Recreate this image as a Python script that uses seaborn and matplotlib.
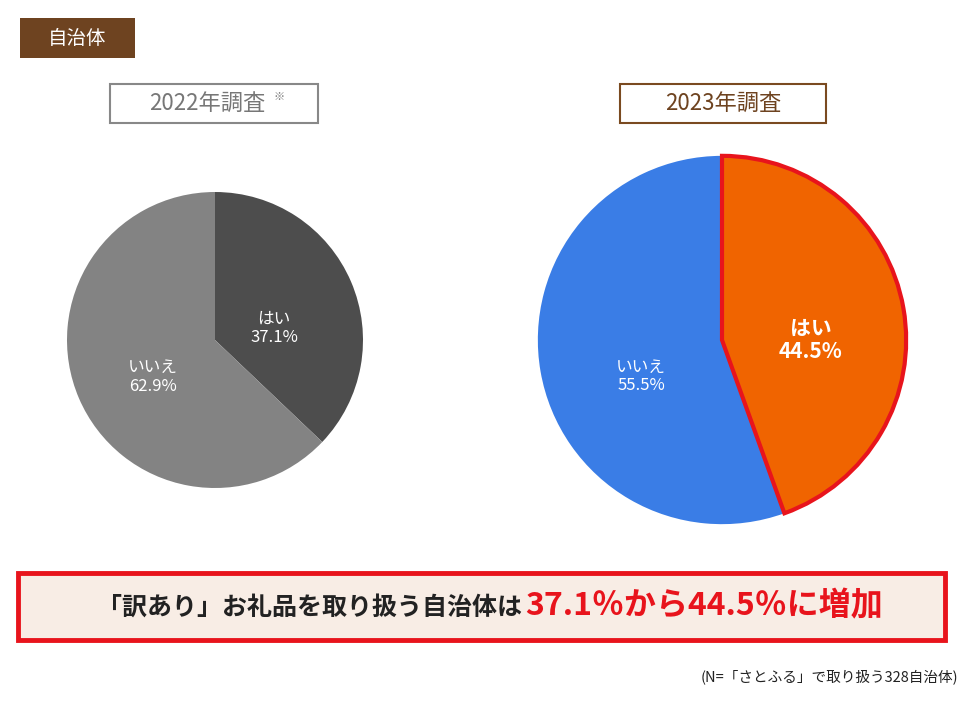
import matplotlib
matplotlib.use("Agg")
import matplotlib.pyplot as plt
import seaborn as sns
from matplotlib.patches import Rectangle

sns.set_theme(style="white")
plt.rcParams["font.family"] = "Noto Sans CJK JP"

labels = ["はい", "いいえ"]
values_2022 = [37.1, 62.9]
values_2023 = [44.5, 55.5]
titles = ["2022年調査", "2023年調査"]

W, H = 980, 710
fig = plt.figure(figsize=(W/100, H/100), dpi=100)

def px_axes(cx, cy, r):
    a = fig.add_axes([(cx-r)/W, 1-(cy+r)/H, 2*r/W, 2*r/H])
    return a

ov = fig.add_axes([0, 0, 1, 1])
ov.set_xlim(0, W); ov.set_ylim(H, 0); ov.axis("off")

ov.add_patch(Rectangle((20, 18), 115, 40, facecolor="#6E4320", edgecolor="none"))
ov.text(77, 38, "自治体", color="white", fontsize=14, ha="center", va="center")

ov.add_patch(Rectangle((110, 84), 208, 39, facecolor="white", edgecolor="#888888", lw=1.5))
ov.text(207, 103, titles[0], color="#777777", fontsize=16, ha="center", va="center")
ov.text(273, 97, "※", color="#777777", fontsize=8, ha="left", va="center")
ov.add_patch(Rectangle((620, 84), 206, 39, facecolor="white", edgecolor="#7A4A20", lw=1.5))
ov.text(723, 103, titles[1], color="#6E4320", fontsize=16, ha="center", va="center")

ax1 = px_axes(215, 340, 148)
ax1.pie(values_2022, colors=["#4D4D4D", "#838383"], startangle=90, counterclock=False,
        wedgeprops=dict(linewidth=0))
ax1.set_xlim(-1, 1); ax1.set_ylim(-1, 1); ax1.set_aspect("equal")
ax1.text(0.4, 0.08, f"{labels[0]}\n{values_2022[0]}%", color="white", fontsize=12,
         ha="center", va="center", linespacing=1.1)
ax1.text(-0.42, -0.25, f"{labels[1]}\n{values_2022[1]}%", color="white", fontsize=12,
         ha="center", va="center", linespacing=1.1)

ax2 = px_axes(722, 340, 186)
w, _ = ax2.pie(values_2023, colors=["#F06400", "#3A7DE6"], startangle=90, counterclock=False,
               wedgeprops=dict(linewidth=0))
w[0].set_edgecolor("#E8141C"); w[0].set_linewidth(3); w[0].set_zorder(3)
ax2.set_xlim(-1.01, 1.01); ax2.set_ylim(-1.01, 1.01); ax2.set_aspect("equal")
ax2.text(0.48, 0.0, f"{labels[0]}\n{values_2023[0]}%", color="white", fontsize=15,
         fontweight="bold", ha="center", va="center", linespacing=1.15)
ax2.text(-0.44, -0.2, f"{labels[1]}\n{values_2023[1]}%", color="white", fontsize=12,
         ha="center", va="center", linespacing=1.1)

ov.add_patch(Rectangle((18, 573), 927, 67, facecolor="#F8EDE5", edgecolor="#E8141C", lw=3.5))
ov.text(522, 608, "「訳あり」お礼品を取り扱う自治体は", color="#222222", fontsize=18,
        fontweight="bold", ha="right", va="center")
ov.text(525, 606, "37.1％から44.5％に増加", color="#E8141C", fontsize=23,
        fontweight="bold", ha="left", va="center")
ov.text(958, 677, "(N=「さとふる」で取り扱う328自治体)", color="#222222", fontsize=10.5,
        ha="right", va="center")

fig.savefig("out.png", dpi=100)
